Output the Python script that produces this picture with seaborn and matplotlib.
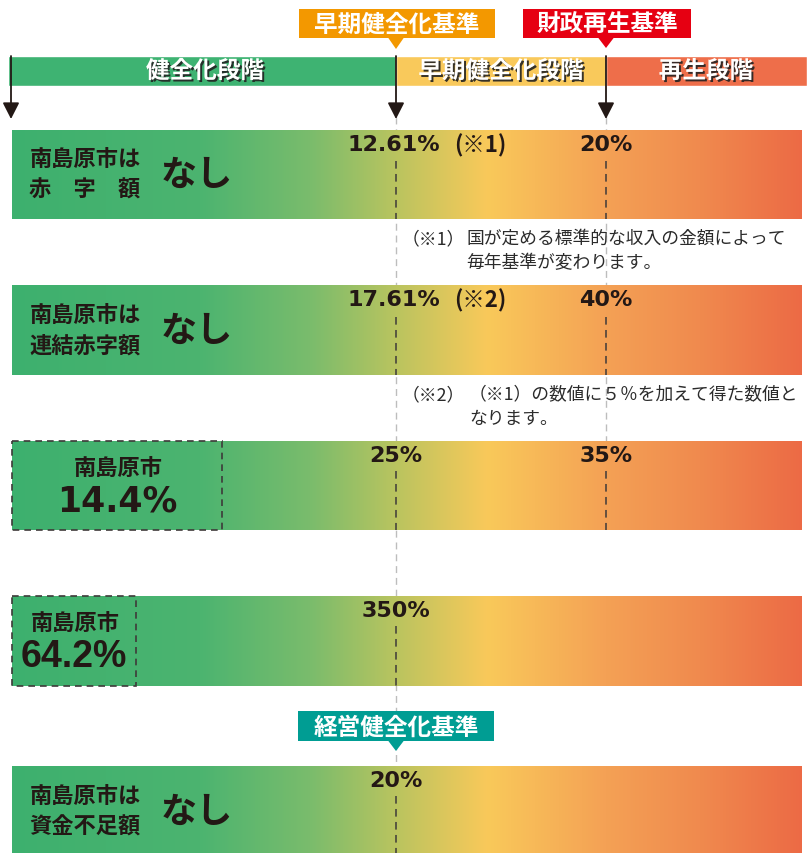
import numpy as np
import matplotlib
matplotlib.use("Agg")
import matplotlib.pyplot as plt
import matplotlib.patheffects as pe
from matplotlib.patches import Rectangle, Polygon
import seaborn as sns

# ---- data -------------------------------------------------------------
stage_names = ["健全化段階", "早期健全化段階", "再生段階"]
stage_colors = ["#3EB372", "#F9C95B", "#EE6E4A"]
standard_names = ["早期健全化基準", "財政再生基準"]
standard_colors = ["#F39800", "#E60012"]
mgmt_name = "経営健全化基準"
mgmt_color = "#009D93"

row_titles = [["南島原市は", "赤　字　額"],
              ["南島原市は", "連結赤字額"],
              ["南島原市"],
              ["南島原市"],
              ["南島原市は", "資金不足額"]]
row_values = ["なし", "なし", "14.4%", "64.2%", "なし"]
early_limits = ["12.61%", "17.61%", "25%", "350%", "20%"]
early_marks = ["(※1)", "(※2)", "", "", ""]
rebuild_limits = ["20%", "40%", "35%", "", ""]

note_marks = ["（※1）", "（※2）"]
note_lines = [["国が定める標準的な収入の金額によって", "毎年基準が変わります。"],
              ["（※1）の数値に５％を加えて得た数値と", "なります。"]]

# gradient stops of the row bars
grad_x = [12, 200, 310, 396, 487, 606, 700, 802]
grad_c = ["#3DB06E", "#4CB470", "#7ABC6C", "#BAC45F", "#F9C95A", "#F4A155", "#F08A4E", "#EC6A45"]

# ---- layout -----------------------------------------------------------
W, H = 807, 854
X1, X2 = 396, 606
row_top = [131, 287, 442, 597, 767]
row_bot = [220, 376, 531, 687, 854]
thr_y = [145, 300, 456, 611, 781]
dash_start = [162, 318, 472, 627, 797]
DARK = "#231815"
CJK = ["Noto Sans CJK JP", "DejaVu Sans"]

sns.set_theme(style="white")
plt.rcParams["font.family"] = CJK

fig = plt.figure(figsize=(W / 100, H / 100), dpi=100)
ax = fig.add_axes([0, 0, 1, 1])

# gradient strip built from seaborn blends
segs = []
for i in range(len(grad_x) - 1):
    n = grad_x[i + 1] - grad_x[i]
    pal = np.array(sns.blend_palette([grad_c[i], grad_c[i + 1]], n_colors=n + 1))
    segs.append(pal[:-1])
strip = np.concatenate(segs)[None, :, :]

# light guide lines behind everything
dash = (0, (5, 3.5))
ax.vlines(X1, 118, H, color="#BDBDBD", lw=1.0, linestyles=[dash], zorder=0)
ax.vlines(X2, 118, 531, color="#BDBDBD", lw=1.0, linestyles=[dash], zorder=0)

# stage bar
ax.barh(72, [X1 - 8, X2 - X1, W - X2], left=[8, X1, X2], height=30,
        color=stage_colors, zorder=2)
shadow = [pe.withSimplePatchShadow(offset=(1.4, -1.4), shadow_rgbFace="#222222", alpha=0.9)]
for name, cx in zip(stage_names, [205, 501, 706]):
    ax.text(cx, 72, name, ha="center", va="center", color="white", fontsize=17,
            fontweight="bold", path_effects=shadow, zorder=3)

# arrows down from the stage bar
for x in [11, X1, X2]:
    ax.annotate("", xy=(x, 120), xytext=(x, 57),
                arrowprops=dict(arrowstyle="-|>,head_length=0.55,head_width=0.28",
                                color=DARK, lw=1.3, mutation_scale=18,
                                shrinkA=0, shrinkB=0), zorder=4)


def flag(x0, x1, y0, y1, tip_x, tip_y, text, color):
    ax.add_patch(Rectangle((x0, y0), x1 - x0, y1 - y0, color=color, zorder=5, lw=0))
    ax.add_patch(Polygon([(tip_x - 8, y1 - 0.5), (tip_x + 8, y1 - 0.5), (tip_x, tip_y)],
                         color=color, zorder=5, lw=0))
    ax.text((x0 + x1) / 2, (y0 + y1) / 2 + 0.5, text, ha="center", va="center",
            color="white", fontsize=17, fontweight="bold", zorder=6)


flag(299, 495, 10, 39, X1, 50, standard_names[0], standard_colors[0])
flag(523, 691, 10, 39, X2, 49, standard_names[1], standard_colors[1])
flag(298, 494, 712, 742, X1, 752, mgmt_name, mgmt_color)

# rows
for i in range(5):
    top, bot = row_top[i], row_bot[i]
    ax.imshow(strip, extent=(12, 802, bot, top), aspect="auto",
              interpolation="bilinear", zorder=1)
    # dark dashed marker lines inside the bar
    ax.vlines(X1, dash_start[i], bot, color="#3E3A39", lw=1.1, linestyles=[dash], zorder=3)
    if rebuild_limits[i]:
        ax.vlines(X2, dash_start[i], bot, color="#3E3A39", lw=1.1, linestyles=[dash], zorder=3)

    # threshold labels
    if early_marks[i]:
        ax.text(348, thr_y[i], early_limits[i], ha="left", va="center", color=DARK,
                fontsize=16, fontweight="bold", family="DejaVu Sans", zorder=4)
        ax.text(454, thr_y[i] + 1, early_marks[i], ha="left", va="center", color=DARK,
                fontsize=16, fontweight="bold", zorder=4)
    else:
        ax.text(X1, thr_y[i], early_limits[i], ha="center", va="center", color=DARK,
                fontsize=16, fontweight="bold", family="DejaVu Sans", zorder=4)
    if rebuild_limits[i]:
        ax.text(X2, thr_y[i], rebuild_limits[i], ha="center", va="center", color=DARK,
                fontsize=16, fontweight="bold", family="DejaVu Sans", zorder=4)

    # city labels
    if len(row_titles[i]) == 2:
        mid = (top + bot) / 2 if i < 4 else 812
        for k, line in enumerate(row_titles[i]):
            ax.text(85, mid - 15 + 30 * k, line, ha="center", va="center", color=DARK,
                    fontsize=16, fontweight="bold", zorder=4)
        ax.text(197, mid, row_values[i], ha="center", va="center", color=DARK,
                fontsize=26, fontweight="bold", zorder=4)

# city value boxes (rows 3 and 4)
box_right = {2: 222, 3: 136}
for i, right in box_right.items():
    top, bot = row_top[i], row_bot[i]
    ax.add_patch(Rectangle((12, top), right - 12, bot - top, fill=False, ec="#3E3A39",
                           lw=1.2, ls=(0, (4, 3)), zorder=4))
    cx = (12 + right) / 2
    ax.text(cx + 1, top + 27, row_titles[i][0], ha="center", va="center", color=DARK,
            fontsize=16, fontweight="bold", zorder=5)
    if i == 2:
        ax.text(cx, top + 60, row_values[i], ha="center", va="center", color=DARK,
                fontsize=25, fontweight="bold", family="DejaVu Sans", zorder=5)
    else:
        ax.text(cx, top + 60, row_values[i], ha="center", va="center", color=DARK,
                fontsize=27, fontweight="bold", family="Liberation Sans", zorder=5)

# notes
for mark, lines, y0, bx in zip(note_marks, note_lines, [239, 395], [466, 469]):
    ax.text(402, y0, mark, ha="left", va="center", color="#2b2b2b", fontsize=12.8, zorder=4)
    for k, line in enumerate(lines):
        ax.text(bx, y0 + 24 * k, line, ha="left", va="center", color="#2b2b2b",
                fontsize=12.8, zorder=4)

ax.set_xlim(0, W)
ax.set_ylim(H, 0)
ax.axis("off")
fig.savefig("out.png", dpi=100)
